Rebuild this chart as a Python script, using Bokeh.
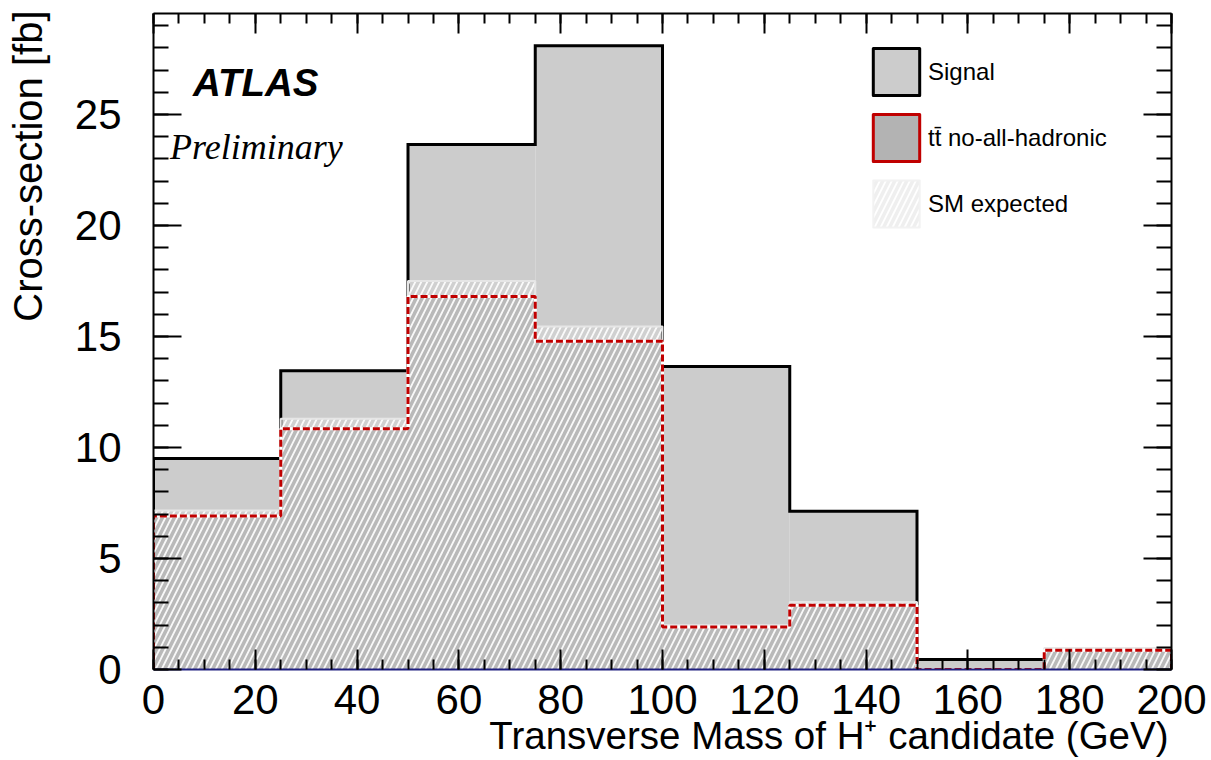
import numpy as np
from bokeh.plotting import figure
from bokeh.models import (Range1d, LinearAxis, SingleIntervalTicker, Label,
                          Legend, LegendItem, CustomJSTickFormatter, Title)
from bokeh.embed import file_html
from bokeh.resources import INLINE

# ---------------- data ----------------
bin_edges = [0, 25, 50, 75, 100, 125, 150, 175, 200]
signal = [9.51, 13.46, 23.65, 28.10, 13.65, 7.13, 0.45, 0.0]
ttbar = [6.92, 10.84, 16.80, 14.79, 1.92, 2.89, 0.0, 0.87]
sm_expected = [7.16, 11.29, 17.50, 15.45, 1.99, 3.04, 0.0, 0.97]

x_range = (0, 200)
y_range = (0, 29.55)
x_major_step = 20
y_major_step = 5

x_title = "Transverse Mass of H\u207a candidate (GeV)"
y_title = "Cross-section [fb]"
legend_labels = ["Signal", "tt\u0304 no-all-hadronic", "SM expected"]

FONT = "Liberation Sans"

left = bin_edges[:-1]
right = bin_edges[1:]


def outline(vals):
    xs = np.repeat(np.array(bin_edges, dtype=float), 2)
    ys = np.concatenate([[0.0], np.repeat(np.array(vals, dtype=float), 2), [0.0]])
    return xs, ys


p = figure(width=1211, height=760,
           x_range=Range1d(*x_range), y_range=Range1d(*y_range),
           output_backend="svg", toolbar_location=None,
           min_border_left=153, min_border_right=40,
           min_border_top=13, min_border_bottom=91)
p.xgrid.visible = False
p.ygrid.visible = False
p.outline_line_color = None
p.background_fill_color = "white"
p.border_fill_color = "white"

# ---------------- histograms ----------------
p.quad(left=left, right=right, bottom=0, top=signal,
       fill_color="#cccccc", line_color=None)
sx, sy = outline(signal)
p.line(sx, sy, line_color="black", line_width=3, line_join="miter")

p.quad(left=left, right=right, bottom=0, top=ttbar,
       fill_color="#b3b3b3", line_color=None)

p.quad(left=left, right=right, bottom=0, top=sm_expected,
       fill_color="white", fill_alpha=0.08,
       hatch_pattern="/", hatch_color="white", hatch_alpha=0.9,
       hatch_weight=1.8, hatch_scale=12, line_color=None)
mx, my = outline(sm_expected)
p.line(mx, my, line_color="#e6e6e6", line_width=2)

tx, ty = outline(ttbar)
p.line(tx, ty, line_color="white", line_width=3)
p.line(tx, ty, line_color="#c00000", line_width=3, line_dash="7 3")

# ---------------- legend (style-only renderers, NaN placeholders) ----------------
nan = [np.nan]
leg_sig = p.quad(left=nan, right=nan, top=nan, bottom=nan,
                 fill_color="#cccccc", line_color="black", line_width=3,
                 line_join="round")
leg_tt = p.quad(left=nan, right=nan, top=nan, bottom=nan,
                fill_color="#b3b3b3", line_color="#c00000", line_width=3,
                line_join="round")
leg_sm = p.quad(left=nan, right=nan, top=nan, bottom=nan,
                fill_color="#efefef", line_color="#f2f2f2", line_width=2,
                hatch_pattern="/", hatch_color="white", hatch_weight=1.8,
                hatch_scale=12, line_join="round")
legend = Legend(items=[LegendItem(label=legend_labels[0], renderers=[leg_sig]),
                       LegendItem(label=legend_labels[1], renderers=[leg_tt]),
                       LegendItem(label=legend_labels[2], renderers=[leg_sm])],
                location=(714, 436), padding=0, margin=0, spacing=7,
                glyph_width=58, glyph_height=59, label_standoff=3,
                label_text_font=FONT, label_text_font_size="24px",
                label_text_color="black",
                border_line_color=None, background_fill_alpha=0)
p.add_layout(legend)

# ---------------- axes ----------------
def style_axis(ax, major_in, minor_in, labels=True, standoff=8):
    ax.axis_line_width = 2
    ax.axis_line_color = "black"
    ax.major_tick_out = 0
    ax.major_tick_in = major_in
    ax.minor_tick_out = 0
    ax.minor_tick_in = minor_in
    ax.major_tick_line_width = 2
    ax.minor_tick_line_width = 2
    ax.major_tick_line_color = "black"
    ax.minor_tick_line_color = "black"
    if labels:
        ax.major_label_text_font = FONT
        ax.major_label_text_font_size = "42px"
        ax.major_label_text_color = "black"
        ax.major_label_standoff = standoff
    else:
        ax.formatter = CustomJSTickFormatter(code="return ''")
        ax.major_label_text_font_size = "0px"
        ax.major_label_standoff = 0


p.xaxis.ticker = SingleIntervalTicker(interval=x_major_step, num_minor_ticks=4)
p.yaxis.ticker = SingleIntervalTicker(interval=y_major_step, num_minor_ticks=5)
xa = p.xaxis[0]
ya = p.yaxis[0]
style_axis(xa, 20, 10, True, 15)
style_axis(ya, 28, 15, True, 32)
xa.axis_line_color = "#202080"

# small spacer so that the y title sits further from the tick labels
ya.axis_label = "\u00a0"
ya.axis_label_text_font_size = "2px"
ya.axis_label_standoff = 17

top_ax = LinearAxis(ticker=SingleIntervalTicker(interval=x_major_step, num_minor_ticks=4))
style_axis(top_ax, 20, 10, labels=False)
p.add_layout(top_ax, "above")
right_ax = LinearAxis(ticker=SingleIntervalTicker(interval=y_major_step, num_minor_ticks=5))
style_axis(right_ax, 28, 15, labels=False)
p.add_layout(right_ax, "right")

# axis titles (aligned to the frame ends, ROOT style)
p.add_layout(Title(text=x_title, align="right", vertical_align="top",
                   text_font=FONT, text_font_size="38.5px",
                   text_font_style="normal", text_color="black",
                   standoff=-6, offset=3), "below")
p.add_layout(Title(text=y_title, align="right", vertical_align="bottom",
                   text_font=FONT, text_font_size="40px",
                   text_font_style="normal", text_color="black",
                   standoff=0, offset=-3), "left")

# ---------------- in-frame texts ----------------
p.add_layout(Label(x=7.76, y=26.45, text="ATLAS", text_font=FONT,
                   text_font_style="bold italic", text_font_size="38.5px",
                   text_baseline="alphabetic", text_color="black"))
p.add_layout(Label(x=3.24, y=23.53, text="Preliminary",
                   text_font="Liberation Serif", text_font_style="italic",
                   text_font_size="36px", text_baseline="alphabetic",
                   text_color="black"))

open("out.html", "w").write(file_html(p, INLINE))
